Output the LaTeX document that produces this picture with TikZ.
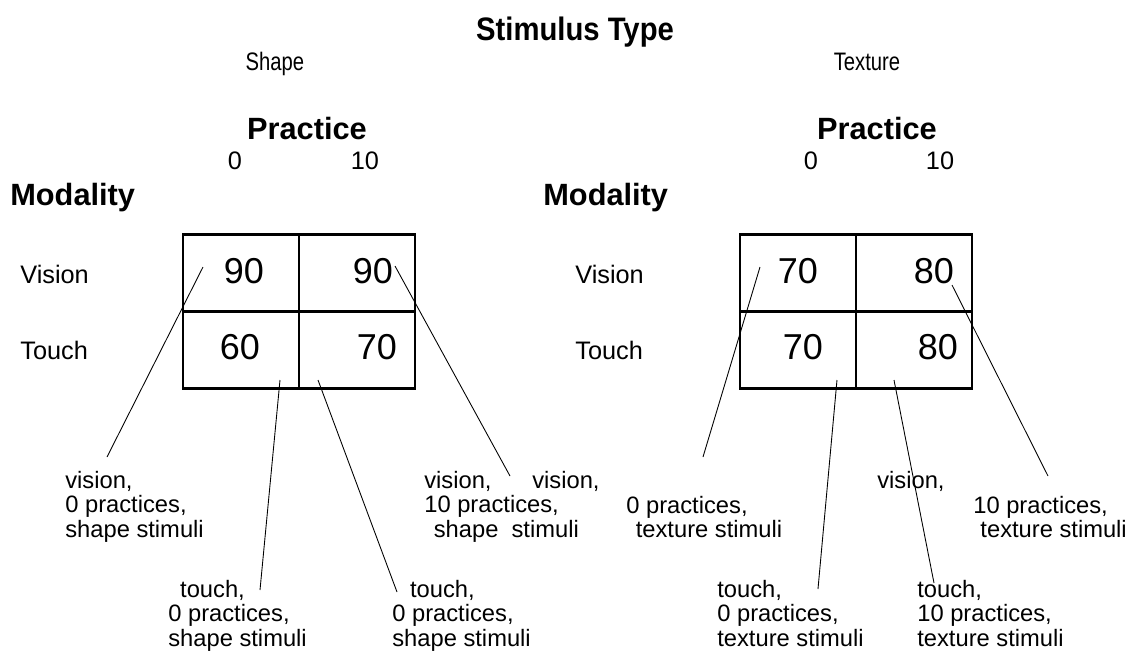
\documentclass[tikz,border=0pt]{standalone}
\usepackage{fontspec}
\setmainfont{Liberation Sans}
\newfontfamily\narrowfont[FakeStretch=0.8]{Liberation Sans}
\newfontfamily\titlefont[FakeStretch=0.9]{Liberation Sans}
\usetikzlibrary{positioning}
\newcommand{\notestack}[1]{\begin{tabular}[t]{@{}l@{}}#1\end{tabular}}
\tikzset{
  head/.style={font=\fontsize{17.5}{21}\selectfont\bfseries,inner sep=0pt},
  lbl/.style={font=\fontsize{14.4}{17}\selectfont,inner sep=0pt},
  kind/.style={font=\narrowfont\fontsize{14.4}{17}\selectfont,inner sep=0pt,anchor=base},
  num/.style={font=\fontsize{20.5}{24}\selectfont,inner sep=0pt,anchor=base},
  cell/.style={draw,line width=1.4pt,outer sep=0pt,inner sep=0pt,
    minimum width=2.32cm,minimum height=1.54cm},
  note/.style={font=\fontsize{13.5}{13.9}\selectfont,inner sep=0pt,anchor=base west},
  lead/.style={line width=0.5pt},
}
\begin{document}
\begin{tikzpicture}[x=0.02cm,y=-0.02cm]
  \useasboundingbox (0,0) rectangle (1134,657);
  \node[inner sep=0pt,anchor=base,font=\titlefont\fontsize{18.5}{22}\selectfont\bfseries]
    (title) at (575,40) {Stimulus Type};
  \node[kind] (shape) at (275,70) {Shape};
  \node[kind] (texture) at (867,70) {Texture};
  % shape panel
  \node[head,anchor=base] (prS) at (307,139) {Practice};
  \node[lbl,anchor=base] (pS0) at (235,169) {0};
  \node[lbl,anchor=base] (pS10) at (365,169) {10};
  \node[head,anchor=base west] (modS) at (10,205) {Modality};
  \node[lbl,anchor=base west] (visS) at (20,283) {Vision};
  \node[lbl,anchor=base west] (touS) at (20,359) {Touch};
  \node[cell] (s00) at (241,273) {};
  \node[cell,right=0pt of s00] (s01) {};
  \node[cell,below=0pt of s00] (s10) {};
  \node[cell,right=0pt of s10] (s11) {};
  \node[num] (ns00) at (244,283) {90};
  \node[num] (ns01) at (373,283) {90};
  \node[num] (ns10) at (240,359) {60};
  \node[num] (ns11) at (377,359) {70};
  % texture panel
  \node[head,anchor=base] (prT) at (877,139) {Practice};
  \node[lbl,anchor=base] (pT0) at (811,169) {0};
  \node[lbl,anchor=base] (pT10) at (940,169) {10};
  \node[head,anchor=base west] (modT) at (543,205) {Modality};
  \node[lbl,anchor=base west] (visT) at (575,283) {Vision};
  \node[lbl,anchor=base west] (touT) at (575,359) {Touch};
  \node[cell] (t00) at (798,273) {};
  \node[cell,right=0pt of t00] (t01) {};
  \node[cell,below=0pt of t00] (t10) {};
  \node[cell,right=0pt of t10] (t11) {};
  \node[num] (nt00) at (798,283) {70};
  \node[num] (nt01) at (934,283) {80};
  \node[num] (nt10) at (803,359) {70};
  \node[num] (nt11) at (938,359) {80};
  % callouts
  \node[note] (cS00) at (65,488) {\notestack{vision,\\0 practices,\\shape stimuli}};
  \node[note] (cS10) at (168,597) {\notestack{\hspace{0.5em}touch,\\0 practices,\\shape stimuli}};
  \node[note] (cS11) at (392,597) {\notestack{\hspace{0.75em}touch,\\0 practices,\\shape stimuli}};
  \node[note] (cS01) at (424,488) {\notestack{vision,\\10 practices,\\\hspace{0.4em}shape\ \ stimuli}};
  \node[note] (vT00) at (532,488) {vision,};
  \node[note] (cT00) at (626,513) {\notestack{0 practices,\\\hspace{0.4em}texture stimuli}};
  \node[note] (vT01) at (877,488) {vision,};
  \node[note] (cT01) at (973,513) {\notestack{10 practices,\\\hspace{0.3em}texture stimuli}};
  \node[note] (cT10) at (717,597) {\notestack{touch,\\0 practices,\\texture stimuli}};
  \node[note] (cT11) at (917,597) {\notestack{touch,\\10 practices,\\texture stimuli}};
  % leader lines
  \coordinate (aS00) at (203,267); \coordinate (bS00) at (107,457);
  \coordinate (aS10) at (280,380); \coordinate (bS10) at (260,590);
  \coordinate (aS11) at (318,380); \coordinate (bS11) at (397,592);
  \coordinate (aS01) at (395,266); \coordinate (bS01) at (510,476);
  \coordinate (aT00) at (760,267); \coordinate (bT00) at (703,457);
  \coordinate (aT10) at (837,380); \coordinate (bT10) at (818,589);
  \coordinate (aT11) at (894,380); \coordinate (bT11) at (934,583);
  \coordinate (aT01) at (952,285); \coordinate (bT01) at (1048,476);
  \draw[lead] (aS00) -- (bS00);
  \draw[lead] (aS10) -- (bS10);
  \draw[lead] (aS11) -- (bS11);
  \draw[lead] (aS01) -- (bS01);
  \draw[lead] (aT00) -- (bT00);
  \draw[lead] (aT10) -- (bT10);
  \draw[lead] (aT11) -- (bT11);
  \draw[lead] (aT01) -- (bT01);
\end{tikzpicture}
\end{document}
